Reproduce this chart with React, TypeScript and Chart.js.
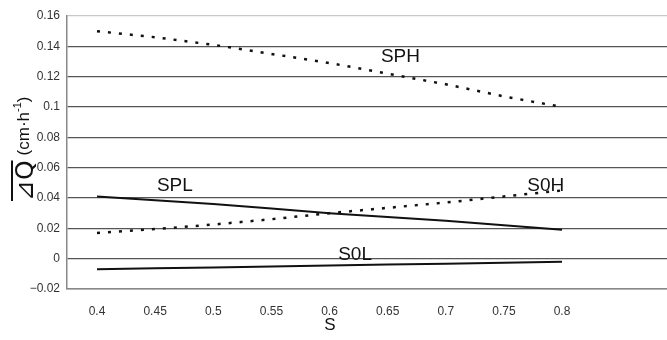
import React, { useEffect, useRef } from "react";
import { Chart, registerables } from "chart.js";

Chart.register(...registerables);

const sValues = [0.4, 0.45, 0.5, 0.55, 0.6, 0.65, 0.7, 0.75, 0.8];
const sphValues = [0.15, 0.146, 0.141, 0.135, 0.129, 0.122, 0.115, 0.107, 0.1];
const splValues = [0.041, 0.0385, 0.036, 0.033, 0.030, 0.0275, 0.025, 0.022, 0.019];
const s0hValues = [0.017, 0.0195, 0.0225, 0.026, 0.030, 0.0335, 0.037, 0.041, 0.045];
const s0lValues = [-0.007, -0.0064, -0.0058, -0.0052, -0.0045, -0.0039, -0.0033, -0.0027, -0.002];
const xTickValues = [0.4, 0.45, 0.5, 0.55, 0.6, 0.65, 0.7, 0.75, 0.8];
const seriesLabels = [
  { text: "SPH", x: 0.661, y: 0.133 },
  { text: "SPL", x: 0.467, y: 0.048 },
  { text: "S0H", x: 0.786, y: 0.048 },
  { text: "S0L", x: 0.622, y: 0.0025 },
];

const fmt = (v: number) => {
  const r = Math.round(v * 100) / 100;
  if (Math.abs(r) < 1e-9) return "0";
  const s = String(parseFloat(r.toFixed(2)));
  return s.startsWith("-") ? "\u2212" + s.slice(1) : s;
};

const toPts = (ys: number[]) => sValues.map((x, i) => ({ x, y: ys[i] }));

const labelPlugin = {
  id: "seriesLabels",
  afterDatasetsDraw(chart: any) {
    const ctx = chart.ctx;
    const xs = chart.scales.x;
    const ys = chart.scales.y;
    ctx.save();
    ctx.fillStyle = "#111";
    ctx.font = "19px 'Liberation Sans', Arial, sans-serif";
    ctx.textAlign = "center";
    ctx.textBaseline = "middle";
    for (const l of seriesLabels) {
      ctx.fillText(l.text, xs.getPixelForValue(l.x), ys.getPixelForValue(l.y));
    }
    ctx.restore();
  },
};

const yTitlePlugin = {
  id: "yTitle",
  afterDraw(chart: any) {
    const ctx = chart.ctx;
    ctx.save();
    ctx.fillStyle = "#111";
    ctx.strokeStyle = "#111";
    ctx.rotate(-Math.PI / 2);
    ctx.textBaseline = "alphabetic";
    ctx.textAlign = "left";
    let pos = -201;
    ctx.font = "25px 'DejaVu Sans', 'Liberation Sans', sans-serif";
    const main = "\u22BFQ";
    const mw = ctx.measureText(main).width;
    ctx.fillText(main, pos, 33);
    ctx.lineWidth = 2;
    ctx.beginPath();
    ctx.moveTo(pos, 12);
    ctx.lineTo(pos + mw, 12);
    ctx.stroke();
    pos += mw + 5;
    ctx.font = "17px 'Liberation Sans', Arial, sans-serif";
    const t1 = "(cm\u00B7h";
    ctx.fillText(t1, pos, 29);
    pos += ctx.measureText(t1).width;
    ctx.font = "11px 'Liberation Sans', Arial, sans-serif";
    const t2 = "-1";
    ctx.fillText(t2, pos, 21);
    pos += ctx.measureText(t2).width;
    ctx.font = "17px 'Liberation Sans', Arial, sans-serif";
    ctx.fillText(")", pos, 29);
    ctx.restore();
  },
};

export default function App() {
  const ref = useRef<HTMLCanvasElement | null>(null);
  useEffect(() => {
    if (!ref.current) return;
    const dotted = [3, 8];
    const chart = new Chart(ref.current, {
      type: "line",
      data: {
        datasets: [
          { label: "SPH", data: toPts(sphValues), borderColor: "#111", borderWidth: 2.5, borderDash: dotted, pointRadius: 0, fill: false },
          { label: "SPL", data: toPts(splValues), borderColor: "#111", borderWidth: 2, pointRadius: 0, fill: false },
          { label: "S0H", data: toPts(s0hValues), borderColor: "#111", borderWidth: 2.5, borderDash: dotted, pointRadius: 0, fill: false },
          { label: "S0L", data: toPts(s0lValues), borderColor: "#111", borderWidth: 2, pointRadius: 0, fill: false },
        ],
      },
      options: {
        animation: false,
        responsive: false,
        maintainAspectRatio: false,
        layout: { padding: { top: 16, right: 0, left: 0, bottom: 0 } },
        plugins: { legend: { display: false }, tooltip: { enabled: false } },
        scales: {
          x: {
            type: "linear",
            min: 0.3742,
            max: 0.8903,
            afterBuildTicks: (axis: any) => {
              axis.ticks = xTickValues.map((v) => ({ value: v }));
            },
            afterFit: (axis: any) => {
              axis.height = 51;
            },
            grid: { display: false, drawTicks: false },
            border: { display: true, color: "#888", width: 1.5 },
            ticks: {
              color: "#333",
              font: { family: "'Liberation Sans', Arial, sans-serif", size: 12 },
              padding: 15,
              maxRotation: 0,
              autoSkip: false,
              callback: (v: any) => fmt(Number(v)),
            },
          },
          y: {
            min: -0.02,
            max: 0.16,
            afterBuildTicks: (axis: any) => {
              const t = [];
              for (let i = 0; i <= 9; i++) t.push({ value: Math.round((-0.02 + i * 0.02) * 100) / 100 });
              axis.ticks = t;
            },
            afterFit: (axis: any) => {
              axis.width = 67;
            },
            grid: {
              drawTicks: false,
              color: (c: any) => {
                const v = c.tick ? c.tick.value : 0;
                if (Math.abs(v - 0.16) < 1e-6) return "#c8c8c8";
                if (Math.abs(v + 0.02) < 1e-6) return "#888";
                return "#555";
              },
              lineWidth: 1.2,
            },
            border: { display: true, color: "#888", width: 1.5 },
            ticks: {
              color: "#333",
              font: { family: "'Liberation Sans', Arial, sans-serif", size: 12 },
              padding: 7,
              callback: (v: any) => fmt(Number(v)),
            },
          },
        },
      },
      plugins: [labelPlugin, yTitlePlugin],
    } as any);
    return () => chart.destroy();
  }, []);
  return (
    <div style={{ position: "fixed", left: 0, top: 0, width: 667, height: 340, background: "#fff" }}>
      <canvas ref={ref} width={667} height={340} style={{ display: "block", width: 667, height: 340 }} />
      <div
        style={{
          position: "absolute",
          left: 320,
          top: 315,
          width: 20,
          textAlign: "center",
          fontFamily: "'Liberation Sans', Arial, sans-serif",
          fontSize: 17,
          color: "#111",
        }}
      >
        S
      </div>
    </div>
  );
}
